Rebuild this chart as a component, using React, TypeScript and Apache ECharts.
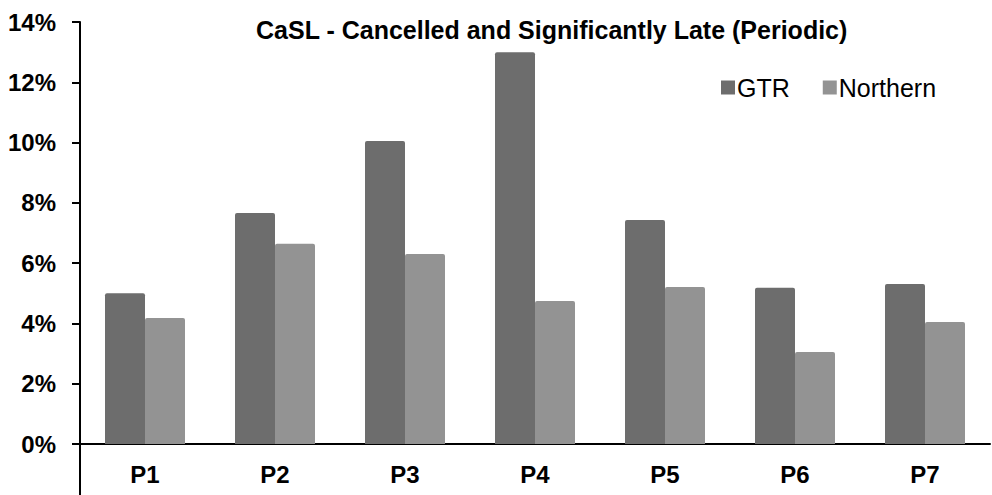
import React, { useEffect, useRef } from "react";
import * as echarts from "echarts";

const categories = ["P1", "P2", "P3", "P4", "P5", "P6", "P7"];
const gtrValues = [5.0, 7.66, 10.05, 13.0, 7.43, 5.18, 5.31];
const northernValues = [4.18, 6.64, 6.3, 4.74, 5.21, 3.05, 4.05];
const seriesNames = ["GTR", "Northern"];
const titleText = "CaSL - Cancelled and Significantly Late (Periodic)";

export default function App() {
  const ref = useRef<HTMLDivElement>(null);
  useEffect(() => {
    document.body.style.margin = "0";
    const chart = echarts.init(ref.current!, null, { renderer: "svg" });
    const font = "Liberation Sans, Arial, sans-serif";
    chart.setOption({
      animation: false,
      backgroundColor: "#ffffff",
      title: {
        text: titleText,
        left: 251,
        top: 12,
        textStyle: { fontFamily: font, fontSize: 25, fontWeight: "bold", color: "#000" },
      },
      legend: {
        data: seriesNames,
        left: 716,
        top: 70,
        itemWidth: 14,
        itemHeight: 14,
        itemGap: 33,
        icon: "rect",
        textStyle: { fontFamily: font, fontSize: 25, color: "#000", padding: [0, 0, 0, -3] },
      },
      grid: { left: 80, right: 2, top: 22, bottom: 51, containLabel: false },
      xAxis: {
        type: "category",
        data: categories,
        axisLine: { lineStyle: { color: "#000", width: 2 } },
        axisTick: { show: false },
        axisLabel: { margin: 18, fontFamily: font, fontSize: 24, fontWeight: "bold", color: "#000" },
      },
      yAxis: {
        type: "value",
        min: 0,
        max: 14,
        interval: 2,
        splitLine: { show: false },
        axisLine: { show: true, lineStyle: { color: "#000", width: 2 } },
        axisTick: { show: true, length: 8, lineStyle: { color: "#000", width: 2 } },
        axisLabel: {
          margin: 24,
          fontFamily: font,
          fontSize: 24,
          fontWeight: "bold",
          color: "#000",
          formatter: (v: number) => v + "%",
        },
      },
      series: [
        {
          name: seriesNames[0],
          type: "bar",
          data: gtrValues,
          barWidth: 40,
          barGap: "0%",
          itemStyle: { color: "#6d6d6d", borderRadius: [2, 2, 0, 0] },
        },
        {
          name: seriesNames[1],
          type: "bar",
          data: northernValues,
          barWidth: 40,
          barGap: "0%",
          itemStyle: { color: "#939393", borderRadius: [2, 2, 0, 0] },
        },
      ],
    });
    const origin = chart.convertToPixel({ gridIndex: 0 }, [0, 0]) as number[];
    chart.setOption({
      graphic: [
        {
          type: "line",
          shape: { x1: 80, y1: origin[1], x2: 80, y2: 495 },
          style: { stroke: "#000", lineWidth: 2 },
        },
      ],
    });
    return () => chart.dispose();
  }, []);
  return <div ref={ref} style={{ width: 992, height: 495 }} />;
}
